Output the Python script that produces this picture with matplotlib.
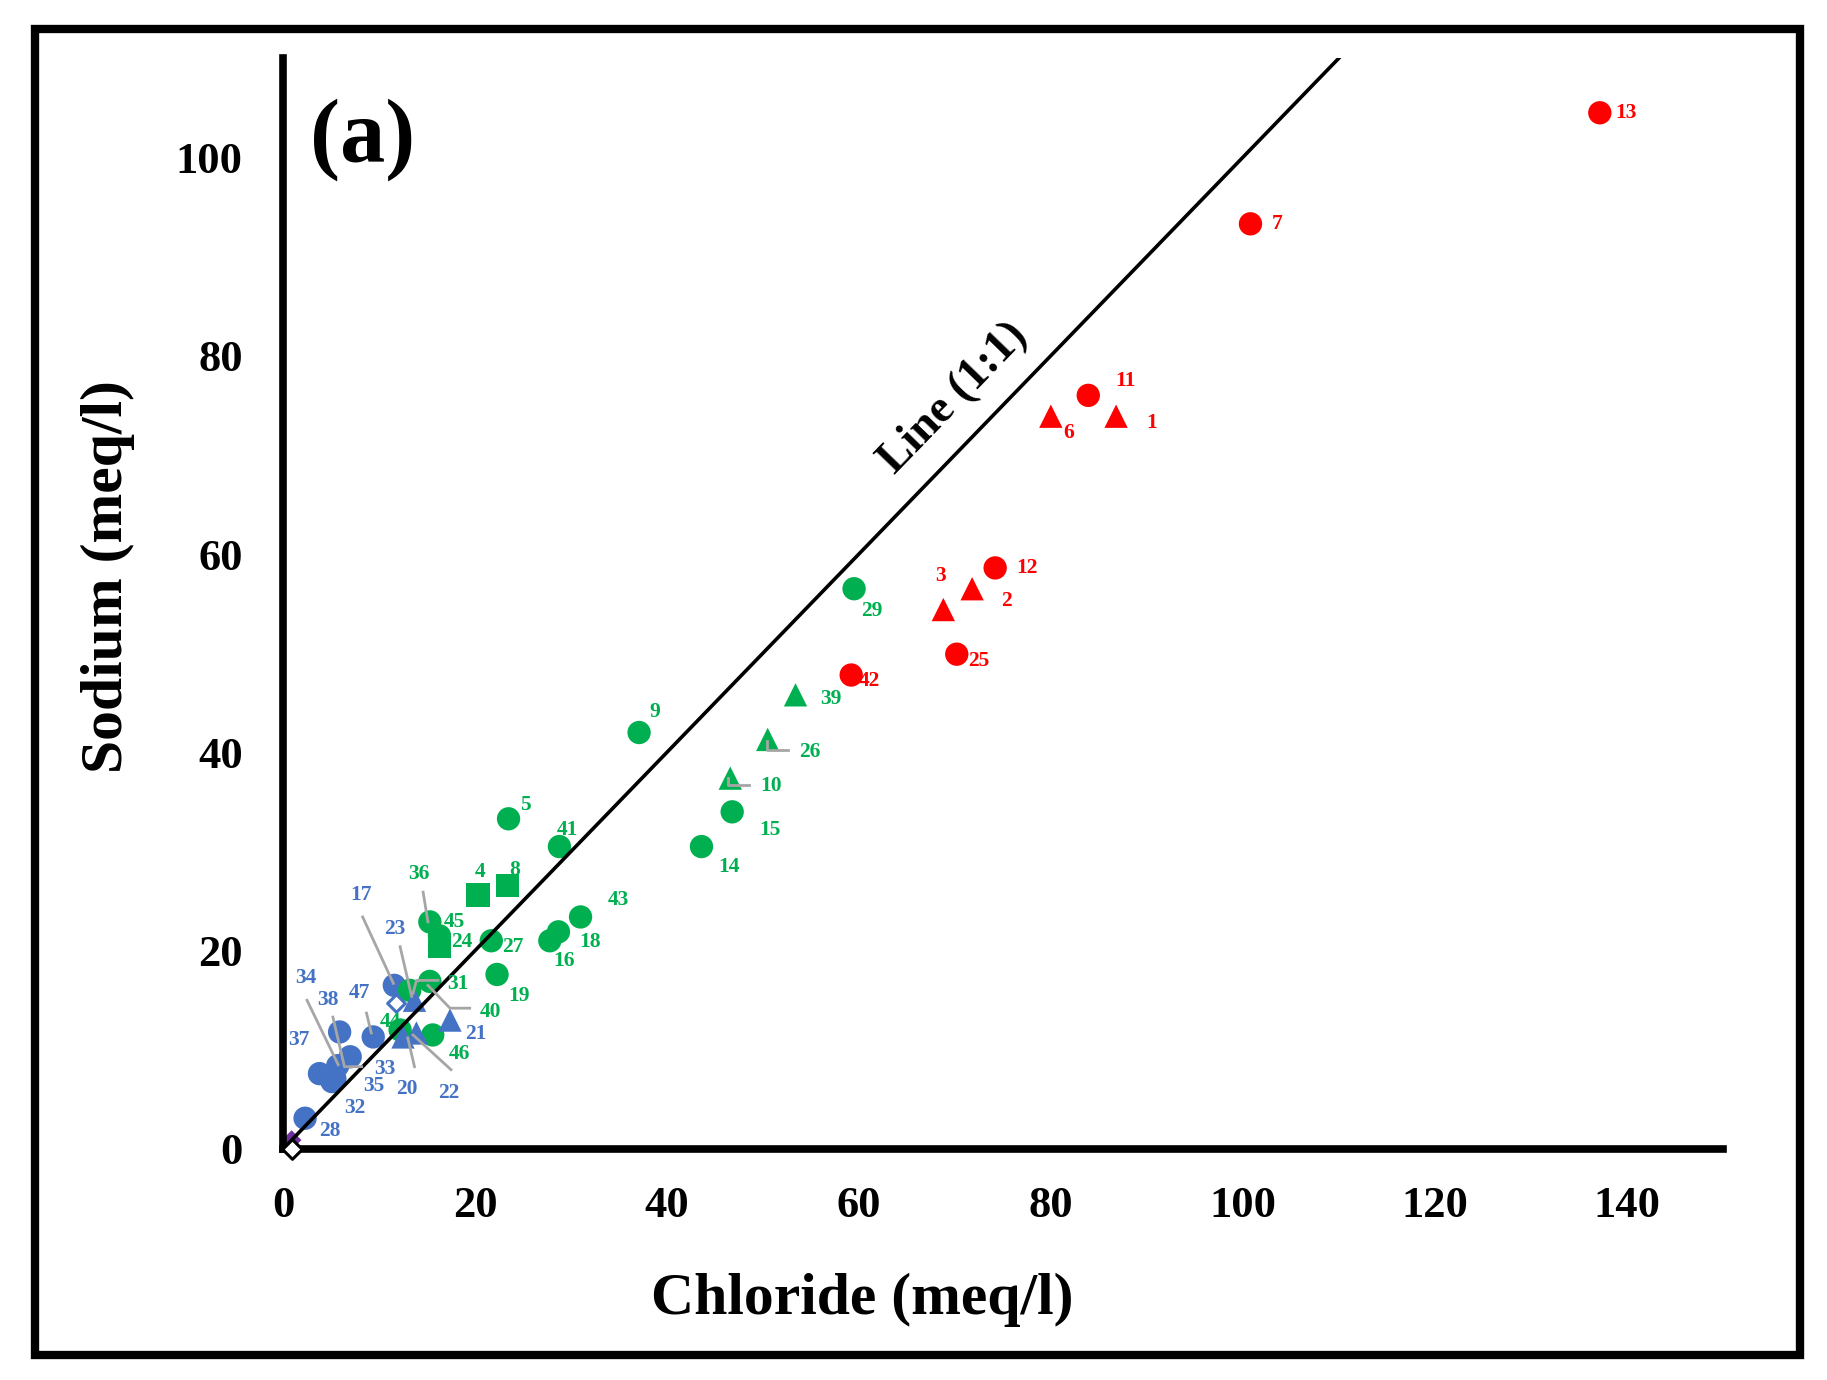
import matplotlib
matplotlib.use("Agg")
import matplotlib.pyplot as plt
from matplotlib.patches import Rectangle

plt.rcParams['font.family'] = ['Liberation Serif', 'DejaVu Serif']
plt.rcParams['font.weight'] = 'bold'

RED, GREEN, BLUE, GRAY, PURPLE = '#FF0000', '#00B050', '#4472C4', '#A6A6A6', '#7030A0'

# ---------------- data (Chloride, Sodium in meq/l) ----------------
red_circle_ids = ['13', '7', '11', '12', '25', '42']
red_circle_cl = [137.2, 100.8, 83.9, 74.2, 70.2, 59.2]
red_circle_na = [104.5, 93.3, 76.0, 58.6, 49.9, 47.8]

red_tri_ids = ['6', '1', '3', '2']
red_tri_cl = [80.0, 86.8, 68.8, 71.8]
red_tri_na = [73.9, 73.9, 54.4, 56.5]

green_circle_ids = ['29', '9', '15', '14', '5', '41', '43', '18', '16', '27', '19',
                    '36', '45', '31', '40', '44', '46']
green_circle_cl = [59.5, 37.1, 46.8, 43.6, 23.5, 28.8, 31.0, 28.7, 27.8, 21.7, 22.3,
                   15.3, 16.3, 13.2, 15.3, 12.2, 15.6]
green_circle_na = [56.5, 42.0, 34.0, 30.5, 33.3, 30.5, 23.4, 21.9, 21.0, 21.0, 17.6,
                   22.9, 21.5, 16.0, 16.9, 12.0, 11.5]

green_square_ids = ['4', '8', '24']
green_square_cl = [20.3, 23.4, 16.3]
green_square_na = [25.6, 26.6, 20.4]

green_tri_ids = ['39', '26', '10']
green_tri_cl = [53.4, 50.5, 46.6]
green_tri_na = [45.8, 41.3, 37.4]

blue_circle_ids = ['17', '47', '38', '33', '34', '37', '35', '32', '28']
blue_circle_cl = [11.6, 9.4, 5.9, 7.0, 5.7, 3.8, 5.4, 5.1, 2.3]
blue_circle_na = [16.5, 11.3, 11.8, 9.3, 8.4, 7.6, 7.1, 6.8, 3.1]

blue_tri_ids = ['23', '21', '20', '22']
blue_tri_cl = [13.7, 17.4, 12.5, 13.9]
blue_tri_na = [15.0, 13.0, 11.3, 11.7]

blue_diamond_cl = [11.8]
blue_diamond_na = [14.7]

purple_cl = [0.9]
purple_na = [0.9]
black_diamond_cl = [0.9]
black_diamond_na = [0.0]

# label positions (left edge, vertical centre)
label_text = ['13', '7', '11', '6', '1', '12', '3', '2', '25', '42',
              '29', '39', '26', '10', '9', '15', '14', '5', '41', '43', '18', '16', '27',
              '19', '4', '8', '36', '45', '24', '31', '40', '44', '46',
              '17', '23', '34', '38', '47', '37', '33', '35', '20', '22', '32', '28', '21']
label_x = [138.8, 103.0, 86.7, 81.3, 89.9, 76.4, 67.9, 74.8, 71.4, 60.0,
           60.2, 56.0, 53.8, 49.7, 38.2, 49.6, 45.3, 24.7, 28.5, 33.8, 30.9, 28.2, 22.8,
           23.5, 20.0, 23.6, 13.0, 16.7, 17.5, 17.1, 20.5, 10.1, 17.3,
           7.0, 10.5, 1.3, 3.6, 6.9, 0.5, 9.5, 8.4, 11.8, 16.2, 6.4, 3.8, 19.0]
label_y = [104.5, 93.3, 77.5, 72.2, 73.2, 58.6, 57.8, 55.3, 49.2, 47.2,
           54.3, 45.4, 40.0, 36.6, 44.1, 32.2, 28.4, 34.7, 32.2, 25.1, 20.9, 19.0, 20.4,
           15.4, 27.9, 28.1, 27.7, 22.9, 20.9, 16.6, 13.8, 12.8, 9.6,
           25.6, 22.2, 17.2, 15.0, 15.7, 11.0, 8.1, 6.4, 6.1, 5.6, 4.1, 1.8, 11.6]
label_color = [RED] * 10 + [GREEN] * 23 + [BLUE] * 13

# gray leader lines
leaders = [
    [(46.4, 37.4), (46.4, 36.7), (48.6, 36.7)],
    [(50.4, 41.1), (50.4, 40.2), (52.6, 40.2)],
    [(14.6, 25.9), (15.1, 22.9)],
    [(8.3, 23.4), (11.5, 16.7)],
    [(12.2, 20.4), (13.4, 15.4)],
    [(2.5, 15.0), (5.75, 8.5)],
    [(5.2, 13.3), (6.4, 8.3), (8.2, 8.3)],
    [(8.7, 13.7), (9.2, 11.7)],
    [(13.7, 8.3), (13.0, 11.2)],
    [(17.5, 8.0), (13.55, 11.5)],
    [(15.1, 16.5), (17.4, 14.2), (19.45, 14.2)],
    [(13.55, 15.7), (13.9, 17.0), (16.15, 17.0)],
]

one_to_one = [0, 110]

# ---------------- figure ----------------
fig = plt.figure(figsize=(18.27, 13.80), dpi=100)
ax = fig.add_axes([0.1549, 0.1674, 0.9429 - 0.1549, 0.9578 - 0.1674])
ax.set_xlim(0, 150)
ax.set_ylim(0, 110)

MS = 16.8
S = MS ** 2
ax.scatter(blue_circle_cl, blue_circle_na, s=S, marker='o', color=BLUE, edgecolors='none', zorder=3)
ax.scatter(green_circle_cl, green_circle_na, s=S, marker='o', color=GREEN, edgecolors='none', zorder=3)
ax.scatter(green_square_cl, green_square_na, s=S, marker='s', color=GREEN, edgecolors='none', zorder=3)
ax.scatter(green_tri_cl, green_tri_na, s=S, marker='^', color=GREEN, edgecolors='none', zorder=3)
ax.scatter(blue_tri_cl, blue_tri_na, s=S, marker='^', color=BLUE, edgecolors='none', zorder=3)
ax.scatter(blue_diamond_cl, blue_diamond_na, s=9 ** 2, marker='D', facecolors='white',
           edgecolors=BLUE, linewidths=2.2, zorder=3)
ax.scatter(red_circle_cl, red_circle_na, s=S, marker='o', color=RED, edgecolors='none', zorder=3)
ax.scatter(red_tri_cl, red_tri_na, s=S, marker='^', color=RED, edgecolors='none', zorder=3)
ax.scatter(purple_cl, purple_na, s=10 ** 2, marker='D', color=PURPLE, edgecolors='none',
           zorder=3, clip_on=False)
ax.scatter(black_diamond_cl, black_diamond_na, s=10 ** 2, marker='D', facecolors='white',
           edgecolors='black', linewidths=2.2, zorder=6, clip_on=False)

ax.plot(one_to_one, one_to_one, color='black', lw=2.6, zorder=4)

for seg in leaders:
    xs = [p[0] for p in seg]
    ys = [p[1] for p in seg]
    ax.plot(xs, ys, color=GRAY, lw=2.0, zorder=4.5)

for t, x, y, c in zip(label_text, label_x, label_y, label_color):
    ax.text(x, y, t, ha='left', va='center', fontsize=15.5, fontweight='bold', color=c, zorder=5)

ax.text(69.9, 75.7, 'Line (1:1)', rotation=45.9, ha='center', va='center',
        fontsize=33, fontweight='bold', color='black', rotation_mode='anchor')
ax.text(2.8, 101.8, '(a)', ha='left', va='center', fontsize=65, fontweight='bold')

for side in ['top', 'right']:
    ax.spines[side].set_visible(False)
for side in ['left', 'bottom']:
    ax.spines[side].set_linewidth(5.5)
    ax.spines[side].set_zorder(5)

ax.set_xticks([0, 20, 40, 60, 80, 100, 120, 140])
ax.set_yticks([0, 20, 40, 60, 80, 100])
ax.tick_params(axis='both', length=0, labelsize=32)
ax.tick_params(axis='x', pad=27)
ax.tick_params(axis='y', pad=29)
for lab in ax.get_xticklabels() + ax.get_yticklabels():
    lab.set_fontweight('bold')

fig.text(862 / 1827, 1 - 1300 / 1380, 'Chloride (meq/l)', ha='center', va='center',
         fontsize=43, fontweight='bold')
fig.text(108 / 1827, 1 - 577 / 1380, 'Sodium (meq/l)', ha='center', va='center',
         fontsize=43, fontweight='bold', rotation=90)

fig.patches.append(Rectangle((0.0192, 0.0181), 0.9852 - 0.0192, 0.979 - 0.0181,
                             transform=fig.transFigure, fill=False, edgecolor='black',
                             linewidth=6, zorder=10))

fig.savefig('out.png', dpi=100, facecolor='white')
